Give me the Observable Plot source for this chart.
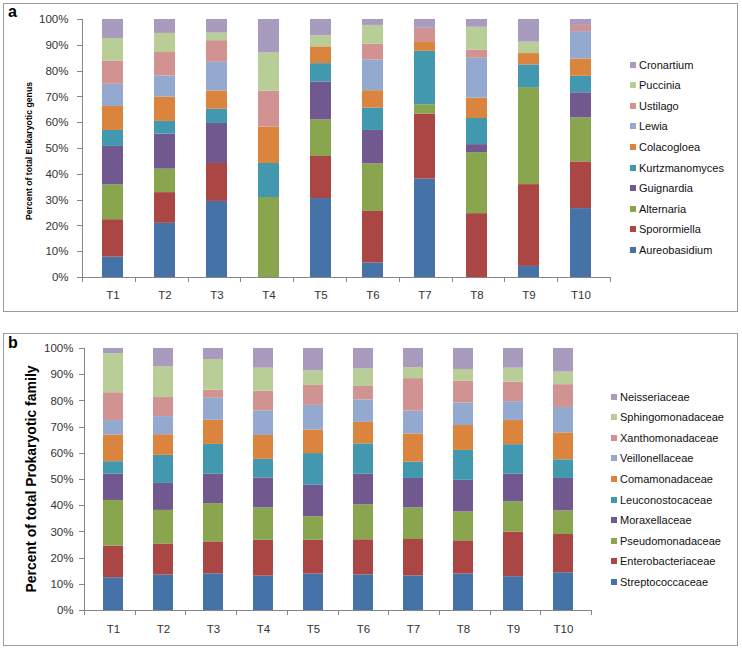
<!DOCTYPE html>
<html>
<head>
<meta charset="utf-8">
<script src="https://cdn.jsdelivr.net/npm/d3@7"></script>
<script src="https://cdn.jsdelivr.net/npm/@observablehq/plot@0.6"></script>
<style>
  html, body { margin: 0; padding: 0; background: #fff; }
  #root { position: relative; width: 742px; height: 649px; overflow: hidden; font-family: "Liberation Sans", Arial, sans-serif; }
  .box { position: absolute; box-sizing: border-box; border: 1px solid #9a9a9a; background: #fff; }
  .chart { position: absolute; left: 0; }
  .letter { position: absolute; font-weight: bold; font-size: 16px; color: #000; }
  .ytitle { position: absolute; font-weight: bold; white-space: nowrap; transform: translate(-50%, -50%) rotate(-90deg); color: #000; }
  .legend { position: absolute; font-size: 11px; color: #111; }
  .legend .item { position: absolute; white-space: nowrap; line-height: 12px; }
  .legend .sw { display: inline-block; width: 6px; height: 6px; margin-right: 3px; vertical-align: 1px; }
</style>
</head>
<body>
<div id="root"></div>
<script>
// ---------- data ----------
const timepoints = ["T1", "T2", "T3", "T4", "T5", "T6", "T7", "T8", "T9", "T10"];

// Panel a: eukaryotic genera (bottom to top of stack)
const eukGenera = ["Aureobasidium", "Sporormiella", "Alternaria", "Guignardia", "Kurtzmanomyces",
                   "Colacogloea", "Lewia", "Ustilago", "Puccinia", "Cronartium"];
const aureobasidium  = [7.9, 21.0, 29.5, 0, 30.6, 5.6, 38.1, 0, 4.3, 26.7];
const sporormiella   = [14.5, 11.9, 14.7, 0, 16.3, 20.0, 25.2, 24.7, 31.7, 18.1];
const alternaria     = [13.5, 9.1, 0, 31.0, 14.2, 18.4, 3.6, 23.6, 37.6, 17.1];
const guignardia     = [14.9, 13.6, 15.5, 0, 14.7, 13.0, 0, 3.1, 0, 9.7];
const kurtzmanomyces = [6.2, 4.9, 5.5, 13.2, 7.1, 8.7, 20.7, 10.1, 8.8, 6.4];
const colacogloea    = [9.3, 9.4, 7.1, 14.1, 6.5, 6.7, 3.4, 7.9, 4.4, 6.7];
const lewia          = [8.6, 8.2, 11.1, 0, 0, 11.9, 0, 15.4, 0, 10.6];
const ustilago       = [9.0, 9.1, 8.4, 13.9, 0, 6.1, 5.5, 3.2, 0, 2.4];
const puccinia       = [8.7, 7.4, 2.9, 14.8, 4.3, 7.3, 0, 8.8, 4.4, 0];
const cronartium     = [7.4, 5.4, 5.3, 13.0, 6.3, 2.3, 3.4, 3.0, 8.8, 2.3];
const eukSeries = [aureobasidium, sporormiella, alternaria, guignardia, kurtzmanomyces,
                   colacogloea, lewia, ustilago, puccinia, cronartium];

// Panel b: prokaryotic families (bottom to top of stack)
const proFamilies = ["Streptococcaceae", "Enterobacteriaceae", "Pseudomonadaceae", "Moraxellaceae",
                     "Leuconostocaceae", "Comamonadaceae", "Veillonellaceae", "Xanthomonadaceae",
                     "Sphingomonadaceae", "Neisseriaceae"];
const streptococcaceae   = [12.5, 13.5, 14.0, 13.1, 13.9, 13.6, 13.2, 13.9, 12.9, 14.4];
const enterobacteriaceae = [12.1, 11.9, 12.2, 13.7, 12.9, 13.4, 13.9, 12.7, 17.0, 14.6];
const pseudomonadaceae   = [17.4, 12.8, 14.6, 12.4, 9.0, 13.3, 12.1, 11.0, 11.6, 9.0];
const moraxellaceae      = [10.0, 10.3, 11.2, 11.4, 12.0, 11.7, 11.2, 12.1, 10.5, 12.4];
const leuconostocaceae   = [4.8, 10.7, 11.4, 7.1, 12.1, 11.6, 6.2, 11.4, 11.3, 7.1];
const comamonadaceae     = [10.2, 7.9, 9.2, 9.1, 9.0, 8.2, 10.8, 9.5, 9.2, 10.3];
const veillonellaceae    = [5.5, 6.9, 8.4, 9.4, 9.4, 8.6, 8.7, 8.6, 7.2, 9.7];
const xanthomonadaceae   = [10.6, 7.3, 3.1, 7.5, 7.6, 5.1, 12.4, 8.3, 7.4, 8.7];
const sphingomonadaceae  = [14.9, 11.8, 11.7, 8.8, 5.6, 6.7, 4.2, 4.5, 5.4, 4.8];
const neisseriaceae      = [2.0, 6.9, 4.2, 7.5, 8.5, 7.8, 7.3, 8.0, 7.5, 9.0];
const proSeries = [streptococcaceae, enterobacteriaceae, pseudomonadaceae, moraxellaceae,
                   leuconostocaceae, comamonadaceae, veillonellaceae, xanthomonadaceae,
                   sphingomonadaceae, neisseriaceae];

const palette = ["#4572A7", "#AA4643", "#89A54E", "#71588F", "#4198AF",
                 "#DB843D", "#93A9CF", "#D19392", "#B9CD96", "#A99BBD"];

// ---------- helpers ----------
function rows(names, series) {
  const out = [];
  names.forEach((g, gi) => timepoints.forEach((t, ti) => out.push({t, g, v: series[gi][ti]})));
  return out;
}

const root = document.getElementById("root");

function addEl(cls, css, html) {
  const d = document.createElement("div");
  d.className = cls;
  Object.assign(d.style, css);
  if (html != null) d.innerHTML = html;
  root.appendChild(d);
  return d;
}

function drawPanel(cfg) {
  const plot = Plot.plot({
    width: 742,
    height: cfg.height,
    marginTop: cfg.mt, marginBottom: cfg.mb, marginLeft: cfg.ml, marginRight: cfg.mr,
    style: {fontFamily: "'Liberation Sans', Arial, sans-serif", fontSize: "11.5px", color: "#333", background: "transparent", overflow: "visible"},
    x: {domain: timepoints, paddingInner: 0.6, paddingOuter: 0.3, tickSize: 0, tickPadding: cfg.xpad, label: null},
    y: {domain: [0, 1], ticks: 10, tickFormat: d3.format(".0%"), tickSize: 0, tickPadding: cfg.ypad, label: null},
    color: {domain: cfg.names, range: palette},
    marks: [
      Plot.barY(rows(cfg.names, cfg.series), {x: "t", y: "v", fill: "g", offset: "normalize", order: cfg.names})
    ]
  });
  plot.classList.add("chart");
  plot.style.top = cfg.top + "px";
  root.appendChild(plot);

  // Excel-style axis lines and ticks using Plot's scales
  const xs = plot.scale("x"), ys = plot.scale("y");
  const [x0, x1] = xs.range;
  const n = timepoints.length;
  const step = (x1 - x0) / n;
  const y0 = ys.apply(0);
  const g = d3.select(plot).append("g").attr("stroke", "#868686").attr("stroke-width", 1).attr("fill", "none");
  g.append("line").attr("x1", x0 + 0.5).attr("x2", x0 + 0.5).attr("y1", ys.apply(1)).attr("y2", y0);
  d3.range(0, 11).forEach(i => {
    const yy = Math.round(ys.apply(i / 10)) + 0.5;
    g.append("line").attr("x1", x0 - 5).attr("x2", x0).attr("y1", yy).attr("y2", yy);
  });
  g.append("line").attr("x1", x0).attr("x2", x1).attr("y1", Math.round(y0) + 0.5).attr("y2", Math.round(y0) + 0.5);
  d3.range(0, n + 1).forEach(i => {
    const xx = Math.round(x0 + i * step) + 0.5;
    g.append("line").attr("x1", xx).attr("x2", xx).attr("y1", y0).attr("y2", y0 + 5);
  });
}

// ---------- panel a ----------
addEl("box", {left: "3px", top: "3px", width: "735px", height: "309px"});
drawPanel({top: 0, height: 320, mt: 19, mb: 43, ml: 82, mr: 132, xpad: 13, ypad: 14,
           names: eukGenera, series: eukSeries});
addEl("letter", {left: "8px", top: "3px"}, "a");
addEl("ytitle", {left: "28.5px", top: "151px", fontSize: "8.7px"}, "Percent of total Eukaryotic genus");

// ---------- panel b ----------
addEl("box", {left: "3px", top: "333px", width: "735px", height: "313px"});
drawPanel({top: 326, height: 320, mt: 22, mb: 36, ml: 84, mr: 151, xpad: 14, ypad: 11,
           names: proFamilies, series: proSeries});
addEl("letter", {left: "8px", top: "334px"}, "b");
addEl("ytitle", {left: "31px", top: "479px", fontSize: "14px"}, "Percent of total Prokaryotic family");

// ---------- legends ----------
function legend(names, left, topFirst, gap) {
  const L = addEl("legend", {left: left + "px", top: "0px"});
  names.slice().reverse().forEach((name, i) => {
    const color = palette[names.indexOf(name)];
    const it = document.createElement("div");
    it.className = "item";
    it.style.top = (topFirst + i * gap - 6) + "px";
    it.innerHTML = `<span class="sw" style="background:${color}"></span>${name}`;
    L.appendChild(it);
  });
}
legend(eukGenera, 630, 64.5, 20.6);
legend(proFamilies, 611, 396.5, 20.6);
</script>
</body>
</html>
